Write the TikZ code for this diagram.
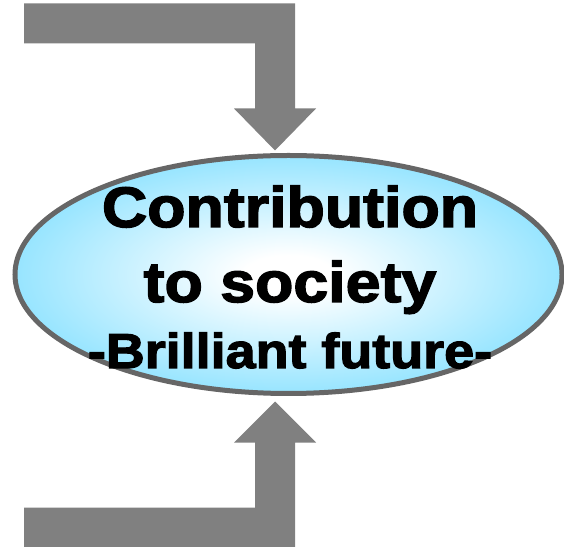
\documentclass[tikz,border=0pt]{standalone}
\usepackage{fontspec}
\setmainfont{Liberation Sans}
\newfontfamily\widesans[FakeStretch=1.1, FakeBold=2.5]{Liberation Sans Bold}
\usetikzlibrary{shapes.geometric,positioning}

\definecolor{skycyan}{RGB}{77,210,255}
\definecolor{rimgray}{RGB}{102,102,102}
\definecolor{arrowgray}{RGB}{128,128,128}
\pgfdeclareradialshading{skyglow}{\pgfpoint{0bp}{0bp}}{color(0bp)=(white); color(4bp)=(white); color(40bp)=(skycyan); color(50bp)=(skycyan)}

\begin{document}
\begin{tikzpicture}[
    x=1pt, y=1pt,
    goal/.style={ellipse, draw=rimgray, line width=5pt, shading=skyglow, minimum width=547pt, minimum height=238pt, inner sep=0pt},
    bigtext/.style={anchor=base, inner sep=0pt, font=\widesans\fontsize{57}{57}\selectfont},
    subtext/.style={anchor=base, inner sep=0pt, font=\widesans\fontsize{49}{49}\selectfont},
    flowarrow/.style={fill=arrowgray}
]

\useasboundingbox (0,0) rectangle (564,546);

\node[goal] (society) at (288.5,271.5) {};

\node[bigtext] (contribution) at ([shift={(1.5,47.5)}]society.center) {Contribution};
\node[bigtext] (tosociety) at ([shift={(1.5,-27.5)}]society.center) {to society};
\node[subtext] (future) at ([shift={(1.5,-93.5)}]society.center) {-Brilliant future-};

\coordinate (intop) at ([xshift=-13.5pt,yshift=2.5pt]society.north);
\coordinate (inbottom) at ([xshift=-13.5pt,yshift=-5.5pt]society.south);

\fill[flowarrow] (intop) -- ++(-41,42) -- ++(21,0) -- ++(0,65) -- ++(-231,0) -- ++(0,40) -- ++(271,0) -- ++(0,-105) -- ++(21,0) -- cycle;
\fill[flowarrow] (inbottom) -- ++(-41,-41) -- ++(21,0) -- ++(0,-65) -- ++(-231,0) -- ++(0,-41) -- ++(271,0) -- ++(0,106) -- ++(21,0) -- cycle;

\end{tikzpicture}
\end{document}
